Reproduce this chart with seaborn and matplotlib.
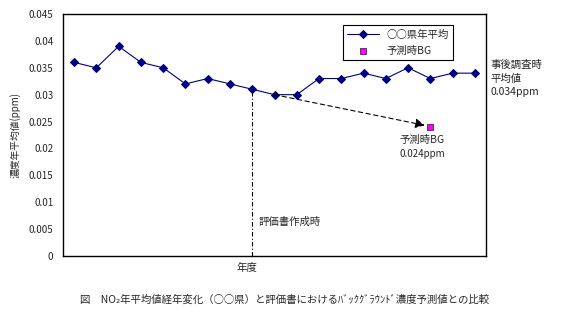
import matplotlib
matplotlib.use("Agg")
import matplotlib.pyplot as plt
import seaborn as sns
import pandas as pd
import numpy as np

sns.set_style("white")
plt.rcParams['font.family'] = ['Noto Sans CJK JP', 'DejaVu Sans']

# Data
year_index = list(range(19))
pref_avg = [0.036, 0.035, 0.039, 0.036, 0.035, 0.032, 0.033, 0.032, 0.031, 0.030,
            0.030, 0.033, 0.033, 0.034, 0.033, 0.035, 0.033, 0.034, 0.034]
bg_index = [16]
bg_value = [0.024]
assess_index = 8
arrow_start_index = 9
series_label = "○○県年平均"
bg_label = "予測時BG"
y_ticks = [0, 0.005, 0.01, 0.015, 0.02, 0.025, 0.03, 0.035, 0.04, 0.045]
y_tick_labels = ["0", "0.005", "0.01", "0.015", "0.02", "0.025", "0.03", "0.035", "0.04", "0.045"]

df = pd.DataFrame({"idx": year_index, "val": pref_avg})
dbg = pd.DataFrame({"idx": bg_index, "val": bg_value})

fig = plt.figure(figsize=(5.69, 3.23), dpi=100)
ax = fig.add_axes([63/569, (323-256)/323, (486-63)/569, (256-14)/323])

navy = "#000080"
sns.lineplot(data=df, x="idx", y="val", ax=ax, color=navy, lw=0.8,
             marker="D", markersize=4.5, markeredgecolor=navy, markerfacecolor=navy,
             label=series_label)
sns.scatterplot(data=dbg, x="idx", y="val", ax=ax, color="#FF00FF", marker="s",
                s=18, edgecolor="#333333", linewidth=0.6, label=bg_label, zorder=5)

# vertical dash-dot line at assessment time
ax.plot([assess_index, assess_index], [0, pref_avg[assess_index]], color="black",
        lw=0.8, ls=(0, (4, 2, 1, 2)))
# dashed arrow to predicted BG
ax.annotate("", xy=(bg_index[0] - 0.25, bg_value[0] + 0.0003),
            xytext=(arrow_start_index, pref_avg[arrow_start_index]),
            arrowprops=dict(arrowstyle="-|>", color="black", lw=0.8, ls=(0, (4, 3)),
                            mutation_scale=14, shrinkA=0, shrinkB=0))

ax.set_xlim(-0.5, 18.5)
ax.set_ylim(0, 0.045)
ax.set_yticks(y_ticks)
ax.set_yticklabels(y_tick_labels, fontsize=7)
ax.set_xticks(np.arange(-0.5, 19, 1))
ax.set_xticklabels([])
ax.tick_params(axis="x", direction="in", length=3, width=0.8)
ax.tick_params(axis="y", direction="out", length=3, width=0.8, pad=4)
for s in ax.spines.values():
    s.set_color("black")
    s.set_linewidth(1.0)
ax.set_xlabel("")
ax.set_ylabel("濃度年平均値(ppm)", fontsize=7, labelpad=6)

ax.text(7.3, -0.0013, "年度", fontsize=7.5, ha="left", va="top")
ax.text(assess_index + 0.3, 0.0063, "評価書作成時", fontsize=7.5, ha="left", va="center")
ax.text(14.6, 0.0215, "予測時BG", fontsize=7.5, ha="left", va="center")
ax.text(14.6, 0.0189, "0.024ppm", fontsize=7, ha="left", va="center")
ax.text(1.01, 0.034/0.045 + 0.055, "事後調査時\n平均値\n0.034ppm", transform=ax.transAxes,
        fontsize=7.5, ha="left", va="top", linespacing=1.45)

leg = ax.legend(loc="upper right", bbox_to_anchor=(0.935, 0.975), fontsize=7.5,
                frameon=True, fancybox=False, edgecolor="black", framealpha=1,
                handlelength=3.0, handletextpad=0.8, borderpad=0.4, labelspacing=0.6)
leg.get_frame().set_linewidth(0.8)

fig.text(285/569, 1 - 300/323, "図　NO₂年平均値経年変化（○○県）と評価書におけるﾊﾞｯｸｸﾞﾗｳﾝﾄﾞ濃度予測値との比較",
         fontsize=7.5, ha="center", va="center")

fig.savefig("out.png", dpi=100)
